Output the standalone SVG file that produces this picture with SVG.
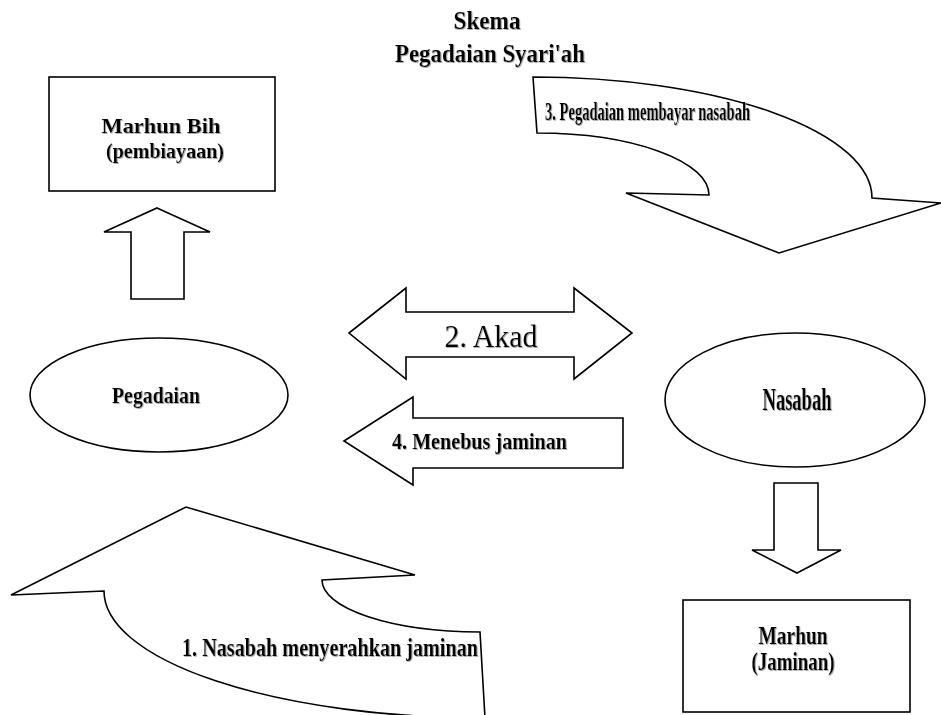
<svg xmlns="http://www.w3.org/2000/svg" width="941" height="715" viewBox="0 0 941 715">
  <defs>
    <filter id="emb" x="-5%" y="-20%" width="110%" height="140%">
      <feDropShadow dx="0.8" dy="0.8" stdDeviation="0.4" flood-color="#9a9a9a" flood-opacity="1"/>
    </filter>
    <style>
      .shape { fill: #ffffff; stroke: #000000; stroke-width: 1.6; stroke-linejoin: miter; }
      .t { font-family: "Liberation Serif", "Times New Roman", serif; fill: #000000; text-anchor: middle; filter: url(#emb); }
      .b { font-weight: bold; }
    </style>
  </defs>
  <rect x="0" y="0" width="941" height="715" fill="#ffffff"/>

  <g id="title">
    <text class="t b" x="487" y="29" font-size="25" textLength="67" lengthAdjust="spacingAndGlyphs">Skema</text>
    <text class="t b" x="490" y="62" font-size="25" textLength="190" lengthAdjust="spacingAndGlyphs">Pegadaian Syari'ah</text>
  </g>

  <g id="connectors">
    <g id="arrow-3">
      <path class="shape" d="M533,77 A339,121 0 0 1 872,198 L941,203 L779,253 L626,193 L709,195 A172,62 0 0 0 537,133 Z"/>
      <text class="t b" x="647.5" y="120" font-size="26" textLength="205" lengthAdjust="spacingAndGlyphs">3. Pegadaian membayar nasabah</text>
    </g>
    <g id="arrow-up">
      <path class="shape" d="M157,208 L210,232 L184,232 L184,299 L131,299 L131,232 L104,232 Z"/>
    </g>
    <g id="arrow-2">
      <path class="shape" d="M349,333 L406,288 L406,312 L574,312 L574,288 L632,333 L574,379 L574,357 L406,357 L406,379 Z"/>
      <text class="t" x="491" y="347" font-size="32" textLength="93" lengthAdjust="spacingAndGlyphs">2. Akad</text>
    </g>
    <g id="arrow-4">
      <path class="shape" d="M344,441 L413,397 L413,418 L623,418 L623,468 L413,468 L413,485 Z"/>
      <text class="t b" x="479.5" y="449" font-size="24" textLength="175" lengthAdjust="spacingAndGlyphs">4. Menebus jaminan</text>
    </g>
    <g id="arrow-down">
      <path class="shape" d="M774,483 L818,483 L818,550 L841,550 L797,573 L752,550 L774,550 Z"/>
    </g>
    <g id="arrow-1">
      <path class="shape" d="M104,591 L11,595 L186,507 L415,575 L322,580 A158,52 0 0 0 480,632 L485,718 A381,127 0 0 1 104,591 Z"/>
      <text class="t b" x="330" y="656" font-size="26" textLength="296" lengthAdjust="spacingAndGlyphs">1. Nasabah menyerahkan jaminan</text>
    </g>
  </g>

  <g id="marhun-bih">
    <rect class="shape" x="49" y="77" width="226" height="114"/>
    <text class="t b" x="161" y="133" font-size="21" textLength="119" lengthAdjust="spacingAndGlyphs">Marhun Bih</text>
    <text class="t b" x="165" y="158" font-size="21" textLength="118" lengthAdjust="spacingAndGlyphs">(pembiayaan)</text>
  </g>

  <g id="pegadaian">
    <ellipse class="shape" cx="159" cy="395" rx="129" ry="57"/>
    <text class="t b" x="156" y="403" font-size="23" textLength="88" lengthAdjust="spacingAndGlyphs">Pegadaian</text>
  </g>

  <g id="nasabah">
    <ellipse class="shape" cx="795" cy="400" rx="130" ry="67"/>
    <text class="t b" x="797" y="410" font-size="32" textLength="69" lengthAdjust="spacingAndGlyphs">Nasabah</text>
  </g>

  <g id="marhun">
    <rect class="shape" x="683" y="600" width="227" height="112"/>
    <text class="t b" x="793" y="644" font-size="25" textLength="69" lengthAdjust="spacingAndGlyphs">Marhun</text>
    <text class="t b" x="793" y="670" font-size="25" textLength="83" lengthAdjust="spacingAndGlyphs">(Jaminan)</text>
  </g>
</svg>
